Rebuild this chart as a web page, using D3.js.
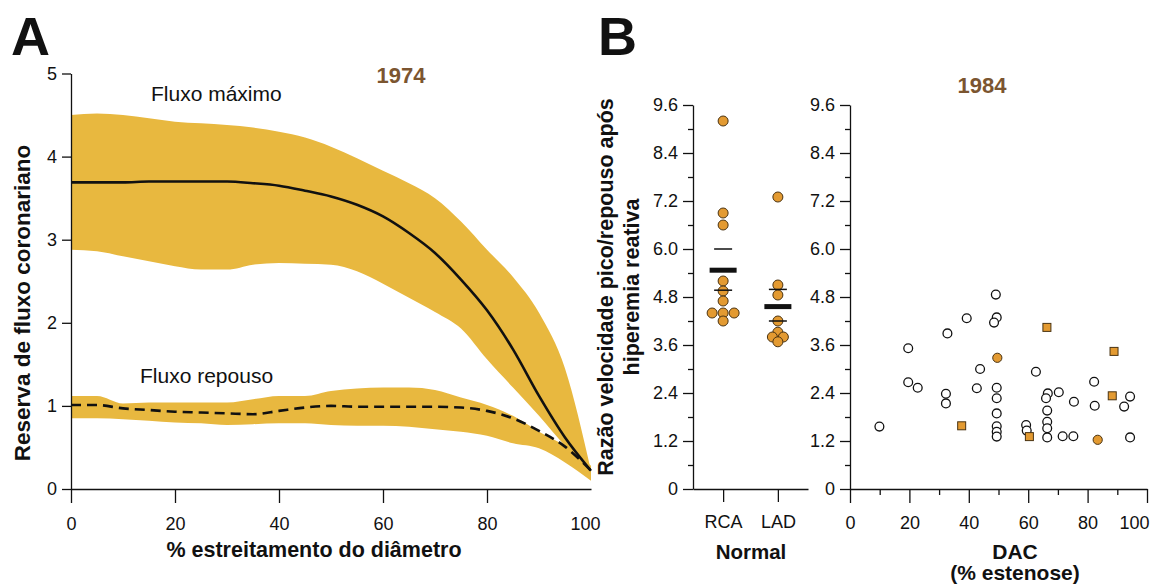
<!DOCTYPE html>
<html>
<head>
<meta charset="utf-8">
<script src="https://cdn.jsdelivr.net/npm/d3@7"></script>
<style>
    body { margin: 0; background: #fff; }
    svg { display: block; font-family: "Liberation Sans", Arial, Helvetica, sans-serif; }
    .axis path, .axis line { stroke: #111; stroke-width: 1.3; }
    .axis text { font-size: 18px; fill: #111; font-family: "Liberation Sans", Arial, Helvetica, sans-serif; }
    .title { font-weight: bold; fill: #111; }
</style>
</head>
<body>
<div id="chart"></div>
<script>
// ---- Panel A (1974): coronary flow reserve vs % diameter narrowing
const stenosisGrid = [0, 5, 10, 15, 20, 25, 30, 35, 40, 45, 50, 55, 60, 65, 70, 75, 80, 85, 90, 95, 100];
const maxFlowUpper = [4.50, 4.52, 4.50, 4.46, 4.42, 4.40, 4.38, 4.35, 4.30, 4.23, 4.12, 3.98, 3.83, 3.68, 3.50, 3.22, 2.88, 2.55, 2.12, 1.45, 0.22];
const maxFlowLower = [2.88, 2.86, 2.80, 2.74, 2.68, 2.64, 2.64, 2.70, 2.72, 2.71, 2.70, 2.62, 2.47, 2.30, 2.13, 1.93, 1.56, 1.22, 0.88, 0.52, 0.22];
const maxFlowMean  = [3.69, 3.69, 3.69, 3.70, 3.70, 3.70, 3.70, 3.68, 3.65, 3.59, 3.52, 3.42, 3.28, 3.08, 2.84, 2.52, 2.15, 1.68, 1.12, 0.62, 0.22];
const restFlowUpper = [1.12, 1.12, 1.03, 1.04, 1.04, 1.04, 1.04, 1.08, 1.12, 1.12, 1.18, 1.21, 1.22, 1.22, 1.19, 1.10, 1.01, 0.88, 0.69, 0.52, 0.28];
const restFlowLower = [0.85, 0.85, 0.84, 0.82, 0.80, 0.79, 0.77, 0.78, 0.79, 0.79, 0.77, 0.76, 0.76, 0.75, 0.72, 0.69, 0.64, 0.55, 0.49, 0.32, 0.10];
const restFlowMean  = [1.01, 1.01, 0.97, 0.95, 0.93, 0.92, 0.91, 0.90, 0.94, 0.98, 1.00, 0.99, 0.99, 0.99, 0.99, 0.98, 0.94, 0.85, 0.70, 0.51, 0.22];
const reserveTicks = [0, 1, 2, 3, 4, 5];
const stenosisTicks = [0, 20, 40, 60, 80, 100];

// ---- Panel B (1984): peak/resting velocity ratio
const ratioTicks = [0, 1.2, 2.4, 3.6, 4.8, 6.0, 7.2, 8.4, 9.6];
const ratioMinorTicks = [0.6, 1.8, 3.0, 4.2, 5.4, 6.6, 7.8, 9.0];
const normalGroups = ['RCA', 'LAD'];
const rcaValues = [9.2, 6.9, 6.6, 5.2, 4.95, 4.7, 4.4, 4.4, 4.4, 4.2];
const ladValues = [7.3, 5.1, 4.85, 4.2, 3.92, 3.8, 3.8, 3.68];
const normalMean = [5.47, 4.56];
const normalSemHigh = [6.0, 4.99];
const normalSemLow = [4.97, 4.2];

const dacOpenX = [9.9, 19.6, 19.6, 22.8, 32.8, 32.3, 32.3, 39.3, 43.8, 42.7, 49.1, 49.4, 48.5, 49.4, 49.4, 49.4, 49.4, 49.4, 49.4,
    62.6, 59.3, 59.5, 66.6, 66.0, 66.4, 66.4, 66.4, 66.4, 70.3, 71.6, 75.2, 75.4, 82.2, 82.4, 92.3, 94.3, 94.3];
const dacOpenY = [1.56, 3.52, 2.67, 2.53, 3.89, 2.38, 2.14, 4.27, 3.0, 2.52, 4.86, 4.29, 4.16, 2.53, 2.27, 1.89, 1.57, 1.43, 1.31,
    2.93, 1.6, 1.46, 2.39, 2.27, 1.96, 1.68, 1.52, 1.29, 2.42, 1.32, 1.32, 2.18, 2.68, 2.08, 2.06, 2.31, 1.29];
const dacSquareX = [66.3, 88.9, 88.3, 37.6, 60.4];
const dacSquareY = [4.04, 3.44, 2.33, 1.58, 1.31];
const dacFilledX = [49.6, 83.4];
const dacFilledY = [3.28, 1.23];
const dacTicks = [0, 20, 40, 60, 80, 100];
const dacMinorTicks = [10, 30, 50, 70, 90];

const COLORS = {
    band: '#E8B83F',
    point: '#E39A31',
    pointStroke: '#4a3312',
    year: '#7B5530',
    ink: '#111'
};

const svg = d3.select('#chart').append('svg').attr('width', 1152).attr('height', 585);

// =================== Panel A ===================
const xA = d3.scaleLinear().domain([0, 100]).range([71, 591]);
const yA = d3.scaleLinear().domain([0, 5]).range([489, 73.5]);
const idx = d3.range(stenosisGrid.length);

const band = (lo, hi) => d3.area()
    .x(i => xA(stenosisGrid[i]))
    .y0(i => yA(lo[i]))
    .y1(i => yA(hi[i]))
    .curve(d3.curveMonotoneX);
const meanLine = (vals) => d3.line()
    .x(i => xA(stenosisGrid[i]))
    .y(i => yA(vals[i]))
    .curve(d3.curveMonotoneX);

const gA = svg.append('g');
gA.append('path').datum(idx).attr('d', band(maxFlowLower, maxFlowUpper)).attr('fill', COLORS.band);
gA.append('path').datum(idx).attr('d', band(restFlowLower, restFlowUpper)).attr('fill', COLORS.band);
gA.append('path').datum(idx).attr('d', meanLine(maxFlowMean))
    .attr('fill', 'none').attr('stroke', COLORS.ink).attr('stroke-width', 2.6);
gA.append('path').datum(idx).attr('d', meanLine(restFlowMean))
    .attr('fill', 'none').attr('stroke', COLORS.ink).attr('stroke-width', 2.6).attr('stroke-dasharray', '10,6');

gA.append('g').attr('class', 'axis').attr('transform', 'translate(71,0)')
    .call(d3.axisLeft(yA).tickValues(reserveTicks).tickSize(9).tickSizeOuter(0).tickPadding(5).tickFormat(d3.format('d')));
const xAxisA = gA.append('g').attr('class', 'axis').attr('transform', 'translate(0,489)')
    .call(d3.axisBottom(xA).tickValues(stenosisTicks).tickSize(14).tickSizeOuter(0).tickPadding(14));
xAxisA.selectAll('.tick').filter(d => d === 100).select('line').remove();
xAxisA.selectAll('.tick').filter(d => d === 100).select('text').attr('dx', -6);

svg.append('text').text('A').attr('x', 11).attr('y', 55)
    .style('font-size', '54px').style('font-weight', 'bold').attr('fill', COLORS.ink);
svg.append('text').text('1974').attr('x', 401).attr('y', 83).attr('text-anchor', 'middle')
    .style('font-size', '22px').style('font-weight', 'bold').attr('fill', COLORS.year);
svg.append('text').text('Fluxo máximo').attr('x', 151).attr('y', 101)
    .style('font-size', '21px').attr('fill', COLORS.ink);
svg.append('text').text('Fluxo repouso').attr('x', 140).attr('y', 383)
    .style('font-size', '21px').attr('fill', COLORS.ink);
svg.append('text').attr('class', 'title').text('% estreitamento do diâmetro')
    .attr('x', 314).attr('y', 557).attr('text-anchor', 'middle').style('font-size', '21.5px');
svg.append('text').attr('class', 'title').text('Reserva de fluxo coronariano')
    .attr('transform', 'translate(30,303) rotate(-90)').attr('text-anchor', 'middle').style('font-size', '22.5px');

// =================== Panel B ===================
const yB = d3.scaleLinear().domain([0, 9.6]).range([489, 105]);
const ratioFormat = d => d === 0 ? '0' : d.toFixed(1);

function ratioAxis(g, x) {
    g.append('g').attr('class', 'axis').attr('transform', `translate(${x},0)`)
        .call(d3.axisLeft(yB).tickValues(ratioTicks).tickSize(10).tickSizeOuter(0).tickPadding(5).tickFormat(ratioFormat));
    g.append('g').attr('class', 'axis').attr('transform', `translate(${x},0)`)
        .call(d3.axisLeft(yB).tickValues(ratioMinorTicks).tickSize(5).tickFormat(''))
        .call(a => a.select('.domain').remove());
}

// Normal subpanel
const gN = svg.append('g');
const xN = d3.scalePoint().domain(normalGroups).range([693, 808]).padding(0.55);
ratioAxis(gN, 693);
gN.append('g').attr('class', 'axis').attr('transform', 'translate(0,489)')
    .call(d3.axisBottom(xN).tickSize(13).tickSizeOuter(0).tickPadding(13));

// spread identical values side by side
function spread(values, step) {
    const counts = d3.rollup(values, v => v.length, v => v);
    const seen = new Map();
    return values.map(v => {
        const n = counts.get(v);
        const k = seen.get(v) || 0;
        seen.set(v, k + 1);
        return { v, dx: (k - (n - 1) / 2) * step };
    });
}

[rcaValues, ladValues].forEach((vals, gi) => {
    const cx = xN(normalGroups[gi]);
    gN.selectAll(null).data(spread(vals, 11)).enter().append('circle')
        .attr('cx', d => cx + d.dx)
        .attr('cy', d => yB(d.v))
        .attr('r', 5)
        .attr('fill', COLORS.point)
        .attr('stroke', COLORS.pointStroke)
        .attr('stroke-width', 1);
});

normalGroups.forEach((grp, i) => {
    const cx = xN(grp);
    gN.append('rect').attr('x', cx - 13.5).attr('width', 27)
        .attr('y', yB(normalMean[i]) - 2.5).attr('height', 5).attr('fill', COLORS.ink);
    [normalSemHigh[i], normalSemLow[i]].forEach(v => {
        gN.append('line').attr('x1', cx - 9).attr('x2', cx + 9)
            .attr('y1', yB(v)).attr('y2', yB(v))
            .attr('stroke', COLORS.ink).attr('stroke-width', 1.5);
    });
});

// DAC subpanel
const gD = svg.append('g');
const xD = d3.scaleLinear().domain([0, 100]).range([850, 1147]);
ratioAxis(gD, 850);
const xAxisD = gD.append('g').attr('class', 'axis').attr('transform', 'translate(0,489)')
    .call(d3.axisBottom(xD).tickValues(dacTicks).tickSize(14).tickSizeOuter(0).tickPadding(13));
xAxisD.selectAll('.tick').filter(d => d === 100).select('text').attr('dx', -13);
gD.append('g').attr('class', 'axis').attr('transform', 'translate(0,489)')
    .call(d3.axisBottom(xD).tickValues(dacMinorTicks).tickSize(6).tickFormat(''))
    .call(a => a.select('.domain').remove());

gD.selectAll(null).data(d3.range(dacOpenX.length)).enter().append('circle')
    .attr('cx', i => xD(dacOpenX[i]))
    .attr('cy', i => yB(dacOpenY[i]))
    .attr('r', 4.4)
    .attr('fill', '#fff')
    .attr('stroke', COLORS.ink)
    .attr('stroke-width', 1.3);

gD.selectAll(null).data(d3.range(dacSquareX.length)).enter().append('rect')
    .attr('x', i => xD(dacSquareX[i]) - 4)
    .attr('y', i => yB(dacSquareY[i]) - 4)
    .attr('width', 8).attr('height', 8)
    .attr('fill', COLORS.point)
    .attr('stroke', COLORS.pointStroke)
    .attr('stroke-width', 1);

gD.selectAll(null).data(d3.range(dacFilledX.length)).enter().append('circle')
    .attr('cx', i => xD(dacFilledX[i]))
    .attr('cy', i => yB(dacFilledY[i]))
    .attr('r', 4.6)
    .attr('fill', COLORS.point)
    .attr('stroke', COLORS.pointStroke)
    .attr('stroke-width', 1);

svg.append('text').text('B').attr('x', 598).attr('y', 55)
    .style('font-size', '54px').style('font-weight', 'bold').attr('fill', COLORS.ink);
svg.append('text').text('1984').attr('x', 982).attr('y', 93).attr('text-anchor', 'middle')
    .style('font-size', '22px').style('font-weight', 'bold').attr('fill', COLORS.year);
svg.append('text').attr('class', 'title').text('Razão velocidade pico/repouso após')
    .attr('transform', 'translate(613,287) rotate(-90)').attr('text-anchor', 'middle').style('font-size', '21.5px');
svg.append('text').attr('class', 'title').text('hiperemia reativa')
    .attr('transform', 'translate(639,287) rotate(-90)').attr('text-anchor', 'middle').style('font-size', '21.5px');
svg.append('text').attr('class', 'title').text('Normal')
    .attr('x', 751).attr('y', 559).attr('text-anchor', 'middle').style('font-size', '20.5px');
svg.append('text').attr('class', 'title').text('DAC')
    .attr('x', 1015).attr('y', 559).attr('text-anchor', 'middle').style('font-size', '21px');
svg.append('text').attr('class', 'title').text('(% estenose)')
    .attr('x', 1015).attr('y', 580).attr('text-anchor', 'middle').style('font-size', '21px');
</script>
</body>
</html>
